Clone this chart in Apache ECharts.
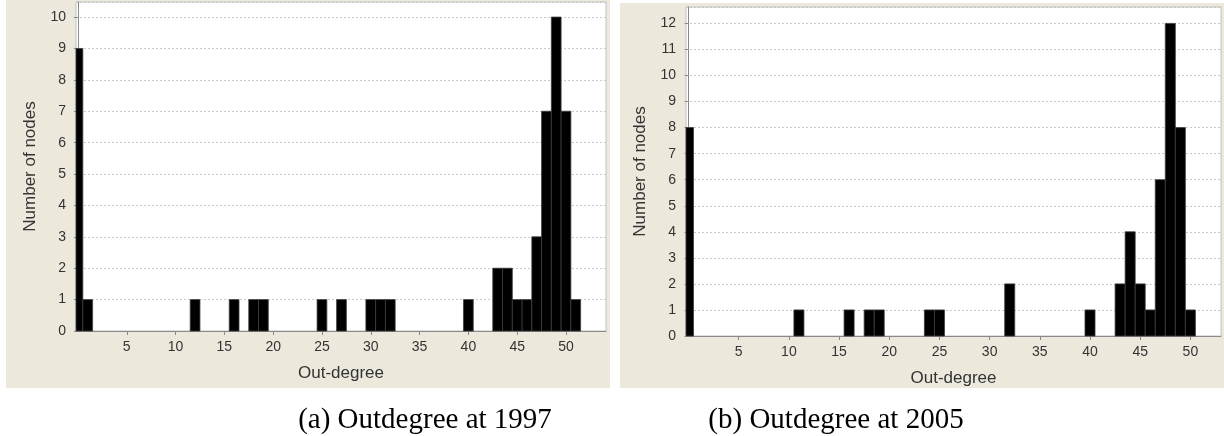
<!DOCTYPE html>
<html>
<head>
<meta charset="utf-8">
<script src="https://cdn.jsdelivr.net/npm/echarts@6/dist/echarts.min.js"></script>
<style>
html,body{margin:0;padding:0;background:#fff;}
#chart{width:1224px;height:436px;}
</style>
</head>
<body>
<div id="chart"></div>
<script>
// Data
var degrees1997 = [0, 1, 12, 16, 18, 19, 25, 27, 30, 31, 32, 40, 43, 44, 45, 46, 47, 48, 49, 50, 51];
var counts1997  = [9, 1, 1, 1, 1, 1, 1, 1, 1, 1, 1, 1, 2, 2, 1, 1, 3, 7, 10, 7, 1];
var degrees2005 = [0, 11, 16, 18, 19, 24, 25, 32, 40, 43, 44, 45, 46, 47, 48, 49, 50];
var counts2005  = [8, 1, 1, 1, 1, 1, 1, 2, 1, 2, 4, 2, 1, 6, 12, 8, 1];
var xTickValues = [5, 10, 15, 20, 25, 30, 35, 40, 45, 50];
var xAxisName = 'Out-degree';
var yAxisName = 'Number of nodes';
var captionA = '(a) Outdegree at 1997';
var captionB = '(b) Outdegree at 2005';

function pairs(xs, ys) {
  var out = [];
  for (var i = 0; i < xs.length; i++) out.push([xs[i], ys[i]]);
  return out;
}

function renderBar(params, api) {
  var x = api.value(0), y = api.value(1);
  var p0 = api.coord([x - 0.5, y]);
  var p1 = api.coord([x + 0.5, 0]);
  var cs = params.coordSys;
  var rect = echarts.graphic.clipRectByRect(
    {x: p0[0], y: p0[1], width: p1[0] - p0[0], height: p1[1] - p0[1]},
    {x: cs.x, y: cs.y, width: cs.width, height: cs.height}
  );
  if (!rect) return;
  return {
    type: 'rect',
    shape: rect,
    style: {fill: '#000', stroke: '#3c3c3c', lineWidth: 0.8}
  };
}

var labelFont = 'Liberation Sans';

function makeX(idx, min, max) {
  return {
    type: 'value', gridIndex: idx, min: min, max: max,
    name: xAxisName, nameLocation: 'middle', nameGap: 34,
    nameTextStyle: {fontFamily: labelFont, fontSize: 17, color: '#333'},
    axisLine: {show: true, lineStyle: {color: '#8a8a8a', width: 1}},
    axisTick: {show: true, length: 4, inside: false, customValues: xTickValues, lineStyle: {color: '#8a8a8a'}},
    axisLabel: {customValues: xTickValues, margin: 9, fontFamily: labelFont, fontSize: 14, color: '#333'},
    splitLine: {show: false}
  };
}
function makeY(idx, max) {
  return {
    type: 'value', gridIndex: idx, min: 0, max: max, interval: 1,
    name: yAxisName, nameLocation: 'middle', nameGap: 37, nameRotate: 90,
    nameTextStyle: {fontFamily: labelFont, fontSize: 17, color: '#333'},
    axisLine: {show: true, lineStyle: {color: '#8a8a8a', width: 1}},
    axisTick: {show: true, length: 4, lineStyle: {color: '#8a8a8a'}},
    axisLabel: {margin: 10, showMaxLabel: false, fontFamily: labelFont, fontSize: 14, color: '#333'},
    splitLine: {show: true, lineStyle: {color: '#c8c8c8', type: [2, 2], width: 1}}
  };
}

var chart = echarts.init(document.getElementById('chart'), null, {renderer: 'canvas'});
chart.setOption({
  animation: false,
  backgroundColor: '#fff',
  graphic: [
    {type: 'rect', z: -10, shape: {x: 6, y: 0, width: 604, height: 388}, style: {fill: '#ece9dc'}},
    {type: 'rect', z: -10, shape: {x: 620, y: 3, width: 604, height: 385}, style: {fill: '#ece9dc'}}
  ],
  title: [
    {text: captionA, left: 420, top: 401, textAlign: 'center',
     textStyle: {fontFamily: 'Liberation Serif', fontSize: 29, fontWeight: 'normal', color: '#000'}},
    {text: captionB, left: 831, top: 401, textAlign: 'center',
     textStyle: {fontFamily: 'Liberation Serif', fontSize: 29, fontWeight: 'normal', color: '#000'}}
  ],
  grid: [
    {left: 76, top: 2, width: 530, height: 329, show: true, backgroundColor: '#fff', borderColor: '#c0c0c0', borderWidth: 1},
    {left: 686, top: 7, width: 535, height: 329, show: true, backgroundColor: '#fff', borderColor: '#c0c0c0', borderWidth: 1}
  ],
  xAxis: [makeX(0, -0.2, 54.1), makeX(1, -0.25, 53.05)],
  yAxis: [makeY(0, 10.48), makeY(1, 12.63)],
  series: [
    {type: 'custom', xAxisIndex: 0, yAxisIndex: 0, renderItem: renderBar, data: pairs(degrees1997, counts1997), encode: {x: 0, y: 1}},
    {type: 'custom', xAxisIndex: 1, yAxisIndex: 1, renderItem: renderBar, data: pairs(degrees2005, counts2005), encode: {x: 0, y: 1}}
  ]
});
</script>
</body>
</html>
